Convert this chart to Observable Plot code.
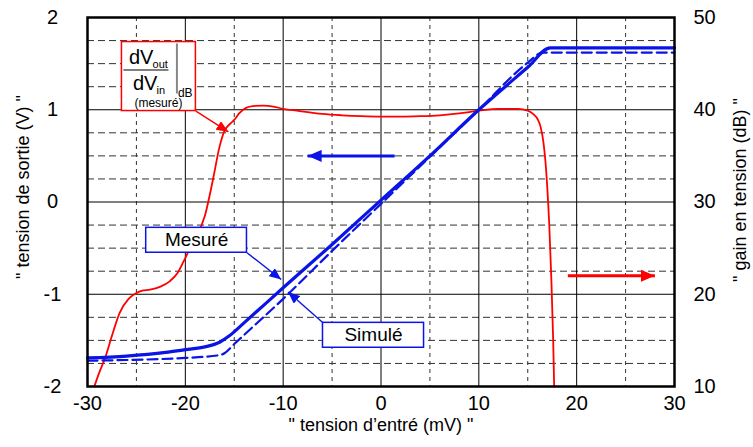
<!DOCTYPE html>
<html><head><meta charset="utf-8">
<script src="https://cdn.jsdelivr.net/npm/d3@7"></script>
<script src="https://cdn.jsdelivr.net/npm/@observablehq/plot@0.6"></script>
<style>body{margin:0;background:#fff} svg{display:block}</style>
</head><body><div id="chart"></div>
<script>
// ---- data ----
const measX = [-30, -26, -22, -20, -18, -16.5, -15.5, -14, -12, -10, -5, 0, 5, 10, 15, 17.3, 30];
const measV = [-1.69, -1.67, -1.63, -1.60, -1.57, -1.52, -1.45, -1.31, -1.12, -0.93, -0.46, 0.02, 0.50, 1.00, 1.46, 1.67, 1.67];
const simX = [-30, -20, -16.5, -16, -15, -10, -5, 0, 5, 10, 15, 16.5, 30];
const simV = [-1.72, -1.69, -1.66, -1.64, -1.54, -1.05, -0.53, -0.02, 0.49, 1.00, 1.51, 1.62, 1.62];
const gainX = [-29.3, -28.8, -28.2, -27.5, -26.7, -25.8, -25.2, -24.4, -23.6, -22.6, -21.6, -20.8, -20.2, -19.3, -18, -17.2, -16.5, -16.0, -15.4, -15.0, -14.5, -13.8, -13.1, -12, -11, -10, -8.6, -6, -4, -2, 0, 2, 4, 6, 8, 10, 12, 14, 15.0, 15.6, 16.0, 16.3, 16.6, 16.8, 17.0, 17.2, 17.4, 17.6, 17.7];
const gainDB = [10, 11.5, 13.1, 15.5, 18, 19.5, 20, 20.4, 20.5, 20.8, 21.4, 22.3, 23.5, 25.5, 28.5, 32.3, 36, 37.7, 38.5, 38.9, 39.6, 40.2, 40.4, 40.45, 40.35, 40.1, 39.9, 39.55, 39.4, 39.3, 39.25, 39.25, 39.3, 39.4, 39.6, 39.9, 40.1, 40.1, 39.9, 39.5, 39.0, 38.2, 36.5, 34.5, 31.5, 27.5, 22, 15, 10];

const xTicks = [-30, -20, -10, 0, 10, 20, 30];
const yTicks = [-2, -1, 0, 1, 2];
const gainTicks = [10, 20, 30, 40, 50];
const xMajor = [-20, -10, 0, 10, 20];
const xMinor = [-25, -15, -5, 5, 15, 25];
const yMajor = [-1, 0, 1];
const yMinor = [-1.75, -1.5, -1.25, -0.75, -0.5, -0.25, 0.25, 0.5, 0.75, 1.25, 1.5, 1.75];

const labelsText = {
  y: "\" tension de sortie (V) \"",
  y2: "\" gain en tension (dB) \"",
  x: "\" tension d\u2019entr\u00e9 (mV) \""
};

// secondary axis: 10 dB <-> -2 V, 50 dB <-> 2 V
const toV = db => (db - 30) / 10;
const fmt = d => (d < 0 ? "-" + Math.abs(d) : String(d));

const meas = measX.map((x, i) => ({x, v: measV[i]}));
const sim = simX.map((x, i) => ({x, v: simV[i]}));
const gain = gainX.map((x, i) => ({x, v: toV(gainDB[i])}));

// annotations (data units)
const bigArrows = [
  {x1: 1.4, y1: 0.5, x2: -7.5, y2: 0.5, c: "#0a14e6"},
  {x1: 19.1, y1: -0.8, x2: 28.0, y2: -0.8, c: "#ff0000"}
];
const thinArrows = [
  {x1: -13.7, y1: -0.55, x2: -10.2, y2: -0.84, c: "#0a14e6"},
  {x1: -5.93, y1: -1.31, x2: -9.5, y2: -0.975, c: "#0a14e6"},
  {x1: -18.92, y1: 0.986, x2: -15.6, y2: 0.76, c: "#ff0000"}
];
const boxes = [
  {x1: -24.0, x2: -13.7, y1: -0.55, y2: -0.28, c: "#0a14e6", t: "Mesur\u00e9", tx: -18.85, ty: -0.415},
  {x1: -5.93, x2: 4.4, y1: -1.58, y2: -1.31, c: "#0a14e6", t: "Simul\u00e9", tx: -0.77, ty: -1.445}
];
const redBox = [{x1: -26.48, x2: -18.92, y1: 0.986, y2: 1.734}];
const fracBig = [
  {t: "dV", x: -25.77, y: 1.566},
  {t: "dV", x: -25.36, y: 1.279}
];
const fracSub = [
  {t: "out", x: -23.35, y: 1.49},
  {t: "in", x: -22.95, y: 1.205}
];
const fracDb = [{t: "dB", x: -20.76, y: 1.18}];
const fracNote = [{t: "(mesur\u00e9)", x: -22.75, y: 1.073}];

function makeMarker(len, half) {
  return function(color, context) {
    const doc = (context && context.document) || document;
    const ns = "http://www.w3.org/2000/svg";
    const m = doc.createElementNS(ns, "marker");
    m.setAttribute("viewBox", `${-len} ${-half} ${len} ${2 * half}`);
    m.setAttribute("markerWidth", len);
    m.setAttribute("markerHeight", 2 * half);
    m.setAttribute("markerUnits", "userSpaceOnUse");
    m.setAttribute("orient", "auto");
    m.setAttribute("refX", 0);
    m.setAttribute("refY", 0);
    const p = doc.createElementNS(ns, "path");
    p.setAttribute("d", `M${-len},${-half}L0,0L${-len},${half}Z`);
    p.setAttribute("fill", color);
    p.setAttribute("stroke", "none");
    m.appendChild(p);
    return m;
  };
}

const font = "'Liberation Sans', Arial, sans-serif";

const chart = Plot.plot({
  width: 753,
  height: 447,
  marginLeft: 87,
  marginRight: 79,
  marginTop: 17,
  marginBottom: 61,
  style: {fontFamily: font, fontSize: "20px", background: "#fff", color: "#000"},
  x: {domain: [-30, 30]},
  y: {domain: [-2, 2]},
  marks: [
    Plot.ruleY(yMinor, {stroke: "#333", strokeWidth: 1, strokeDasharray: "7,4"}),
    Plot.ruleX(xMinor, {stroke: "#333", strokeWidth: 1, strokeDasharray: "4,4"}),
    Plot.ruleY(yMajor, {stroke: "#000", strokeWidth: 1}),
    Plot.ruleX(xMajor, {stroke: "#000", strokeWidth: 1}),
    Plot.line(gain, {x: "x", y: "v", stroke: "#ff0000", strokeWidth: 1.8, curve: "monotone-x"}),
    Plot.line(sim, {x: "x", y: "v", stroke: "#0a14e6", strokeWidth: 2.2, strokeDasharray: "10,5", curve: "monotone-x"}),
    Plot.line(meas, {x: "x", y: "v", stroke: "#0a14e6", strokeWidth: 3.2, curve: "monotone-x"}),
    Plot.link(bigArrows, {x1: "x1", y1: "y1", x2: "x2", y2: "y2", stroke: "c", strokeWidth: 3, markerEnd: makeMarker(14, 6)}),
    Plot.link(thinArrows, {x1: "x1", y1: "y1", x2: "x2", y2: "y2", stroke: "c", strokeWidth: 1.4, markerEnd: makeMarker(12, 5)}),
    Plot.rect(boxes, {x1: "x1", x2: "x2", y1: "y1", y2: "y2", fill: "#fff", stroke: "c", strokeWidth: 1.5}),
    Plot.text(boxes, {x: "tx", y: "ty", text: "t", fontSize: 19, fill: "#000"}),
    Plot.rect(redBox, {x1: "x1", x2: "x2", y1: "y1", y2: "y2", fill: "#fff", stroke: "#ff0000", strokeWidth: 1.5}),
    Plot.ruleY([1.431], {x1: -26.28, x2: -21.67, stroke: "#000", strokeWidth: 1}),
    Plot.ruleX([-20.86], {y1: 1.171, y2: 1.713, stroke: "#888", strokeWidth: 2}),
    Plot.text(fracBig, {x: "x", y: "y", text: "t", fontSize: 20, textAnchor: "start", fill: "#000"}),
    Plot.text(fracSub, {x: "x", y: "y", text: "t", fontSize: 11, textAnchor: "start", fill: "#000"}),
    Plot.text(fracDb, {x: "x", y: "y", text: "t", fontSize: 12, textAnchor: "start", fill: "#000"}),
    Plot.text(fracNote, {x: "x", y: "y", text: "t", fontSize: 12, textAnchor: "middle", fill: "#000"}),
    Plot.frame({stroke: "#000", strokeWidth: 2.5}),
    Plot.axisX(xTicks, {anchor: "bottom", tickSize: 0, tickPadding: 9, fontSize: 20, label: null, tickFormat: fmt}),
    Plot.axisY(yTicks, {anchor: "left", tickSize: 0, tickPadding: 35, textAnchor: "middle", fontSize: 20, label: null, tickFormat: fmt}),
    Plot.axisY(yTicks, {anchor: "right", tickSize: 0, tickPadding: 19, fontSize: 20, label: null,
      tickFormat: d => String(gainTicks[yTicks.indexOf(d)])}),
    Plot.text([labelsText.y], {frameAnchor: "left", textAnchor: "middle", lineAnchor: "middle", dx: -64, dy: -15, rotate: -90, fontSize: 18, fill: "#000"}),
    Plot.text([labelsText.y2], {frameAnchor: "right", textAnchor: "middle", lineAnchor: "middle", dx: 66, dy: -12, rotate: -90, fontSize: 18, fill: "#000"}),
    Plot.text([labelsText.x], {frameAnchor: "bottom", textAnchor: "middle", lineAnchor: "middle", dy: 39, fontSize: 18, fill: "#000"})
  ]
});
document.getElementById("chart").appendChild(chart);
</script></body></html>
